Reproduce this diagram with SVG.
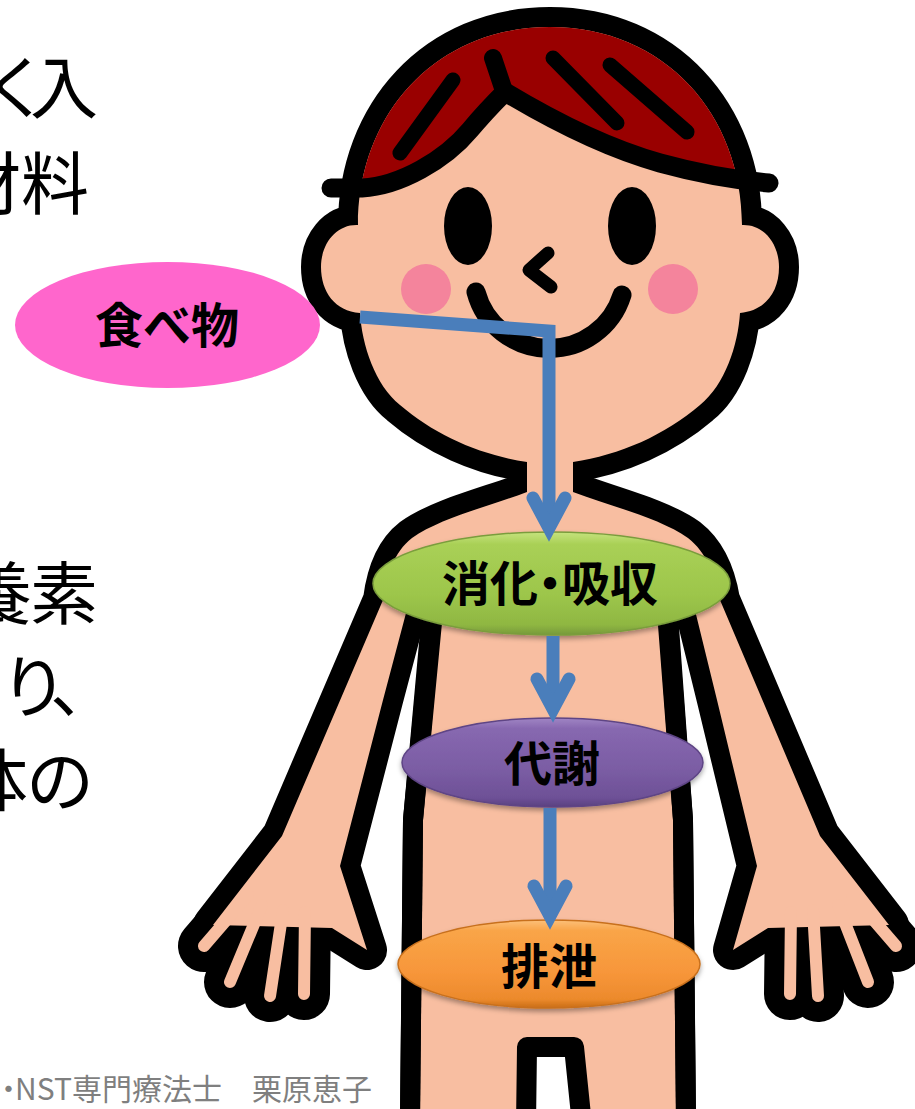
<svg xmlns="http://www.w3.org/2000/svg" width="915" height="1109" viewBox="0 0 915 1109">
  <defs>
    <style>
      .lead{font-family:"Noto Sans CJK JP","Noto Sans CJK SC",sans-serif;font-size:68px;fill:#000}
      .credit{font-family:"Noto Sans CJK JP","Noto Sans CJK SC",sans-serif;font-size:30px;fill:#7f7f7f}
      .lbl{font-family:"Noto Sans CJK JP","Noto Sans CJK SC",sans-serif;font-weight:700;fill:#000;text-anchor:middle}
      .prop{font-feature-settings:"palt"}
      .ink{fill:#000;stroke:#000;stroke-width:40;stroke-linejoin:round}
      .skin{fill:#f8bea1;stroke:none}
      .inkF{fill:none;stroke:#000;stroke-width:52;stroke-linecap:round}
      .skinF{fill:none;stroke:#f8bea1;stroke-width:12;stroke-linecap:round}
      .line{fill:none;stroke:#000;stroke-linecap:round;stroke-linejoin:round}
      .conn{fill:none;stroke:#4a7ebb;stroke-width:13;stroke-linejoin:miter;marker-end:url(#arrowOpen)}
      .bevel{filter:url(#shadow);stroke-width:1.5}
    </style>

    <!-- open V arrowhead, apex lands ~13px past the path end -->
    <marker id="arrowOpen" markerUnits="userSpaceOnUse" orient="auto" refX="1" refY="0" markerWidth="10" markerHeight="10" overflow="visible">
      <path d="M-30,-16 L0,0 L-30,16" fill="none" stroke="#4a7ebb" stroke-width="13" stroke-linecap="round" stroke-linejoin="miter" stroke-miterlimit="10"/>
    </marker>

    <filter id="shadow" x="-10%" y="-20%" width="120%" height="150%">
      <feDropShadow dx="0" dy="3" stdDeviation="2.5" flood-color="#000" flood-opacity="0.35"/>
    </filter>

    <linearGradient id="gGreen" x1="0" y1="0" x2="0" y2="1">
      <stop offset="0" stop-color="#c6e37e"/>
      <stop offset="0.12" stop-color="#a9d056"/>
      <stop offset="0.6" stop-color="#9dc64b"/>
      <stop offset="0.9" stop-color="#8fb742"/>
      <stop offset="1" stop-color="#76993a"/>
    </linearGradient>
    <linearGradient id="gPurple" x1="0" y1="0" x2="0" y2="1">
      <stop offset="0" stop-color="#a085c4"/>
      <stop offset="0.12" stop-color="#8768b0"/>
      <stop offset="0.6" stop-color="#7a5ca3"/>
      <stop offset="0.9" stop-color="#6d5096"/>
      <stop offset="1" stop-color="#5a4080"/>
    </linearGradient>
    <linearGradient id="gOrange" x1="0" y1="0" x2="0" y2="1">
      <stop offset="0" stop-color="#fcc07a"/>
      <stop offset="0.12" stop-color="#f9a548"/>
      <stop offset="0.6" stop-color="#f7963a"/>
      <stop offset="0.9" stop-color="#ec8a2c"/>
      <stop offset="1" stop-color="#c96d17"/>
    </linearGradient>

    <!-- silhouette drawn twice: thick black underlay, then skin fill -->
    <g id="bodyShape">
      <path id="headPath" d="M358,225 C358,115 435,27 550,27 C665,27 742,115 742,225 C764,224 779,244 779,267 C779,292 765,311 740,313 C738,345 725,385 700,405 C665,435 620,455 573,462 L573,515 L527,515 L527,462 C480,455 435,435 400,405 C375,385 362,345 360,313 C335,311 321,292 321,267 C321,244 336,224 358,225 Z"/>
      <path d="M527,470 L527,492 C490,506 440,518 412,538 C394,552 386,576 383,600 L282,836 L213,925 L332,928 L367,950 L340,866 L383,700 L410,598 L445,598 L655,598 L692,598 L717,700 L757,866 L733,950 L768,928 L889,925 L820,836 L720,600 C716,576 706,552 688,538 C660,518 610,506 573,492 L573,470 Z"/>
      <path d="M443,600 L657,600 L673,820 L676,1125 L420,1125 L423,820 Z"/>
    </g>
    <g id="fingerShape">
      <path d="M248,895 L204,946"/>
      <path d="M262,905 L230,982"/>
      <path d="M283,910 L270,996"/>
      <path d="M305,912 L304,994"/>
      <path d="M852,895 L896,946"/>
      <path d="M838,905 L868,982"/>
      <path d="M813,910 L818,996"/>
      <path d="M791,912 L790,994"/>
    </g>

    <clipPath id="headClip">
      <use href="#headPath"/>
    </clipPath>
  </defs>

  <rect width="915" height="1109" fill="#fff"/>

  <!-- slide text, running off the left edge -->
  <g id="bodyText">
    <text class="lead" x="-18 30" y="113">く入</text>
    <text class="lead" x="-47 21" y="209">材料</text>
    <text class="lead" x="-36 30" y="619">養素</text>
    <text class="lead" x="0 50" y="712">り、</text>
    <text class="lead" x="-40 26" y="806">体の</text>
  </g>

  <!-- boy figure -->
  <g id="figure">
    <use href="#bodyShape" class="ink"/>
    <use href="#fingerShape" class="inkF"/>
    <use href="#bodyShape" class="skin"/>
    <use href="#fingerShape" class="skinF"/>

    <!-- hair -->
    <path clip-path="url(#headClip)" fill="#990000" d="M320,200 L331,188 L362,188 C400,186 445,160 470,130 C485,112 497,100 505,92 C535,110 595,145 660,163 C700,174 740,180 790,183 L790,0 L320,0 Z"/>
    <path class="line" stroke-width="19" d="M331,188 L362,188 C400,186 445,160 470,130 C485,112 497,100 505,92 C535,110 595,145 660,163 C700,174 735,180 769,183"/>
    <path class="line" stroke-width="18" d="M493,58 L505,94"/>
    <path class="line" stroke-width="15" d="M453,80 L400,153 M553,58 L617,123 M610,65 L687,132"/>

    <!-- face -->
    <circle cx="426" cy="289" r="25" fill="#f4849c"/>
    <circle cx="673" cy="289" r="25" fill="#f4849c"/>
    <ellipse cx="468" cy="226" rx="24" ry="39" fill="#000"/>
    <ellipse cx="632" cy="226" rx="24" ry="39" fill="#000"/>
    <path class="line" stroke-width="13" d="M548,253 L529,270 L551,287"/>
    <path class="line" stroke-width="19" d="M476,292 A76 76 0 0 0 622,295"/>

    <!-- torso sides and gap between legs -->
    <path class="line" stroke-width="20" stroke-linecap="butt" d="M433,612 L413,820 L410,1115 M667,612 L683,820 L686,1115"/>
    <path fill="#fff" stroke="#000" stroke-width="20" stroke-linejoin="round" d="M526,1125 L527,1047 L574,1047 L582,1125 Z"/>
  </g>

  <!-- nodes -->
  <g id="node-food">
    <ellipse cx="167.5" cy="325" rx="152.5" ry="63" fill="#ff66cc"/>
    <text class="lbl" x="167" y="343" font-size="48">食べ物</text>
  </g>
  <g id="node-digestion">
    <ellipse class="bevel" cx="551.5" cy="583.5" rx="178.5" ry="51.5" fill="url(#gGreen)" stroke="#7a9d3c"/>
    <text class="lbl prop" x="550" y="601" font-size="48">消化・吸収</text>
  </g>
  <g id="node-metabolism">
    <ellipse class="bevel" cx="552.5" cy="762.5" rx="150.5" ry="44.5" fill="url(#gPurple)" stroke="#5e4585"/>
    <text class="lbl" x="552" y="781" font-size="48">代謝</text>
  </g>
  <g id="node-excretion">
    <ellipse class="bevel" cx="549" cy="964" rx="151" ry="44" fill="url(#gOrange)" stroke="#c8701c"/>
    <text class="lbl" x="549" y="984" font-size="48">排泄</text>
  </g>

  <!-- connectors -->
  <g id="connectors">
    <path class="conn" d="M360,317 L549,331 L549,529"/>
    <path class="conn" d="M553,636 L553,710"/>
    <path class="conn" d="M550,808 L550,917"/>
  </g>

  <text class="credit" y="1100"><tspan class="prop" x="1">・</tspan><tspan x="15">NST専門療法士　栗原恵子</tspan></text>
</svg>
